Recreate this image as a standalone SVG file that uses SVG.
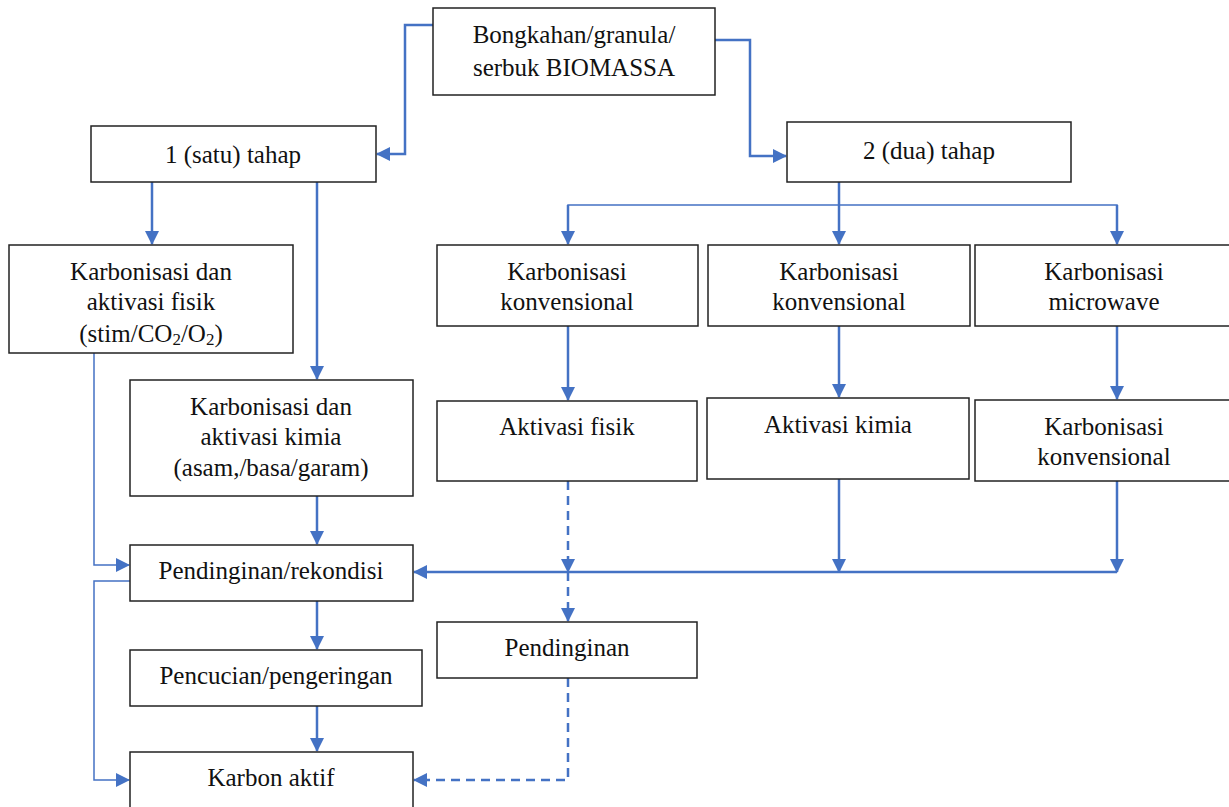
<svg xmlns="http://www.w3.org/2000/svg" width="1229" height="807" viewBox="0 0 1229 807">
<defs>
<marker id="ah" markerWidth="14" markerHeight="14" refX="13" refY="7" orient="auto" markerUnits="userSpaceOnUse">
<path d="M0,0 L14,7 L0,14 Z" fill="#4472C4"/>
</marker>
</defs>
<style>
rect{fill:#fff;stroke:#222;stroke-width:1.5}
text{font-family:"Liberation Serif","Times New Roman",serif;font-size:25px;fill:#111;text-anchor:middle}
.c{fill:none;stroke:#4472C4;stroke-width:2.5}
.t{fill:none;stroke:#4472C4;stroke-width:1.5}
.d{stroke-dasharray:9,6}
</style>
<rect x="0" y="0" width="1229" height="807" style="fill:#fff;stroke:none"/>
<g id="connectors">
<path class="c" d="M433,25 H405 V154 H377" marker-end="url(#ah)"/>
<path class="c" d="M715,40 H750 V156 H786" marker-end="url(#ah)"/>
<path class="c" d="M152,182 V244" marker-end="url(#ah)"/>
<path class="c" d="M317,182 V379" marker-end="url(#ah)"/>
<path class="c" d="M839,182 V244" marker-end="url(#ah)"/>
<path class="t" d="M568,244 V205 H1117 V244"/>
<path class="c" d="M568,205 V244" marker-end="url(#ah)"/>
<path class="c" d="M1117,205 V244" marker-end="url(#ah)"/>
<path class="c" d="M568,326 V400" marker-end="url(#ah)"/>
<path class="c" d="M839,326 V397" marker-end="url(#ah)"/>
<path class="c" d="M1117,326 V399" marker-end="url(#ah)"/>
<path class="c d" d="M568,481 V572" marker-end="url(#ah)"/>
<path class="c d" d="M568,572 V621" marker-end="url(#ah)"/>
<path class="c" d="M839,479 V572" marker-end="url(#ah)"/>
<path class="c" d="M1117,481 V572" marker-end="url(#ah)"/>
<path class="c" d="M1117,572 H414" marker-end="url(#ah)"/>
<path class="c" d="M317,496 V544" marker-end="url(#ah)"/>
<path class="t" d="M94,353 V565 H129" marker-end="url(#ah)"/>
<path class="t" d="M130,581 H94 V780 H129" marker-end="url(#ah)"/>
<path class="c" d="M317,601 V649" marker-end="url(#ah)"/>
<path class="c" d="M317,706 V751" marker-end="url(#ah)"/>
<path class="c d" d="M568,678 V780 H414" marker-end="url(#ah)"/>
</g>
<g id="n-biomassa"><rect x="433" y="8" width="282" height="87"/><text x="574" y="43">Bongkahan/granula/</text><text x="574" y="76">serbuk BIOMASSA</text></g>
<g id="n-satu"><rect x="91" y="126" width="285" height="56"/><text x="233" y="163">1 (satu) tahap</text></g>
<g id="n-dua"><rect x="787" y="122" width="284" height="60"/><text x="929" y="159">2 (dua) tahap</text></g>
<g id="n-fisik1"><rect x="9" y="245" width="284" height="108"/><text x="151" y="280">Karbonisasi dan</text><text x="151" y="310">aktivasi fisik</text><text x="151" y="342">(stim/CO<tspan font-size="17" dy="3">2</tspan><tspan dy="-3">/O</tspan><tspan font-size="17" dy="3">2</tspan><tspan dy="-3">)</tspan></text></g>
<g id="n-kimia1"><rect x="130" y="380" width="283" height="116"/><text x="271" y="415">Karbonisasi dan</text><text x="271" y="445">aktivasi kimia</text><text x="271" y="476">(asam,/basa/garam)</text></g>
<g id="n-kk1"><rect x="437" y="245" width="261" height="81"/><text x="567" y="280">Karbonisasi</text><text x="567" y="310">konvensional</text></g>
<g id="n-kk2"><rect x="708" y="245" width="262" height="81"/><text x="839" y="280">Karbonisasi</text><text x="839" y="310">konvensional</text></g>
<g id="n-mw"><rect x="975" y="245" width="260" height="81"/><text x="1104" y="280">Karbonisasi</text><text x="1104" y="310">microwave</text></g>
<g id="n-afisik"><rect x="437" y="401" width="260" height="80"/><text x="567" y="435">Aktivasi fisik</text></g>
<g id="n-akimia"><rect x="707" y="398" width="262" height="81"/><text x="838" y="433">Aktivasi kimia</text></g>
<g id="n-kk3"><rect x="975" y="400" width="260" height="81"/><text x="1104" y="435">Karbonisasi</text><text x="1104" y="465">konvensional</text></g>
<g id="n-rekondisi"><rect x="130" y="545" width="283" height="56"/><text x="271" y="579">Pendinginan/rekondisi</text></g>
<g id="n-pencucian"><rect x="130" y="650" width="292" height="56"/><text x="276" y="684">Pencucian/pengeringan</text></g>
<g id="n-pendinginan"><rect x="437" y="622" width="260" height="56"/><text x="567" y="656">Pendinginan</text></g>
<g id="n-karbon"><rect x="130" y="752" width="283" height="60"/><text x="271" y="786">Karbon aktif</text></g>
</svg>
